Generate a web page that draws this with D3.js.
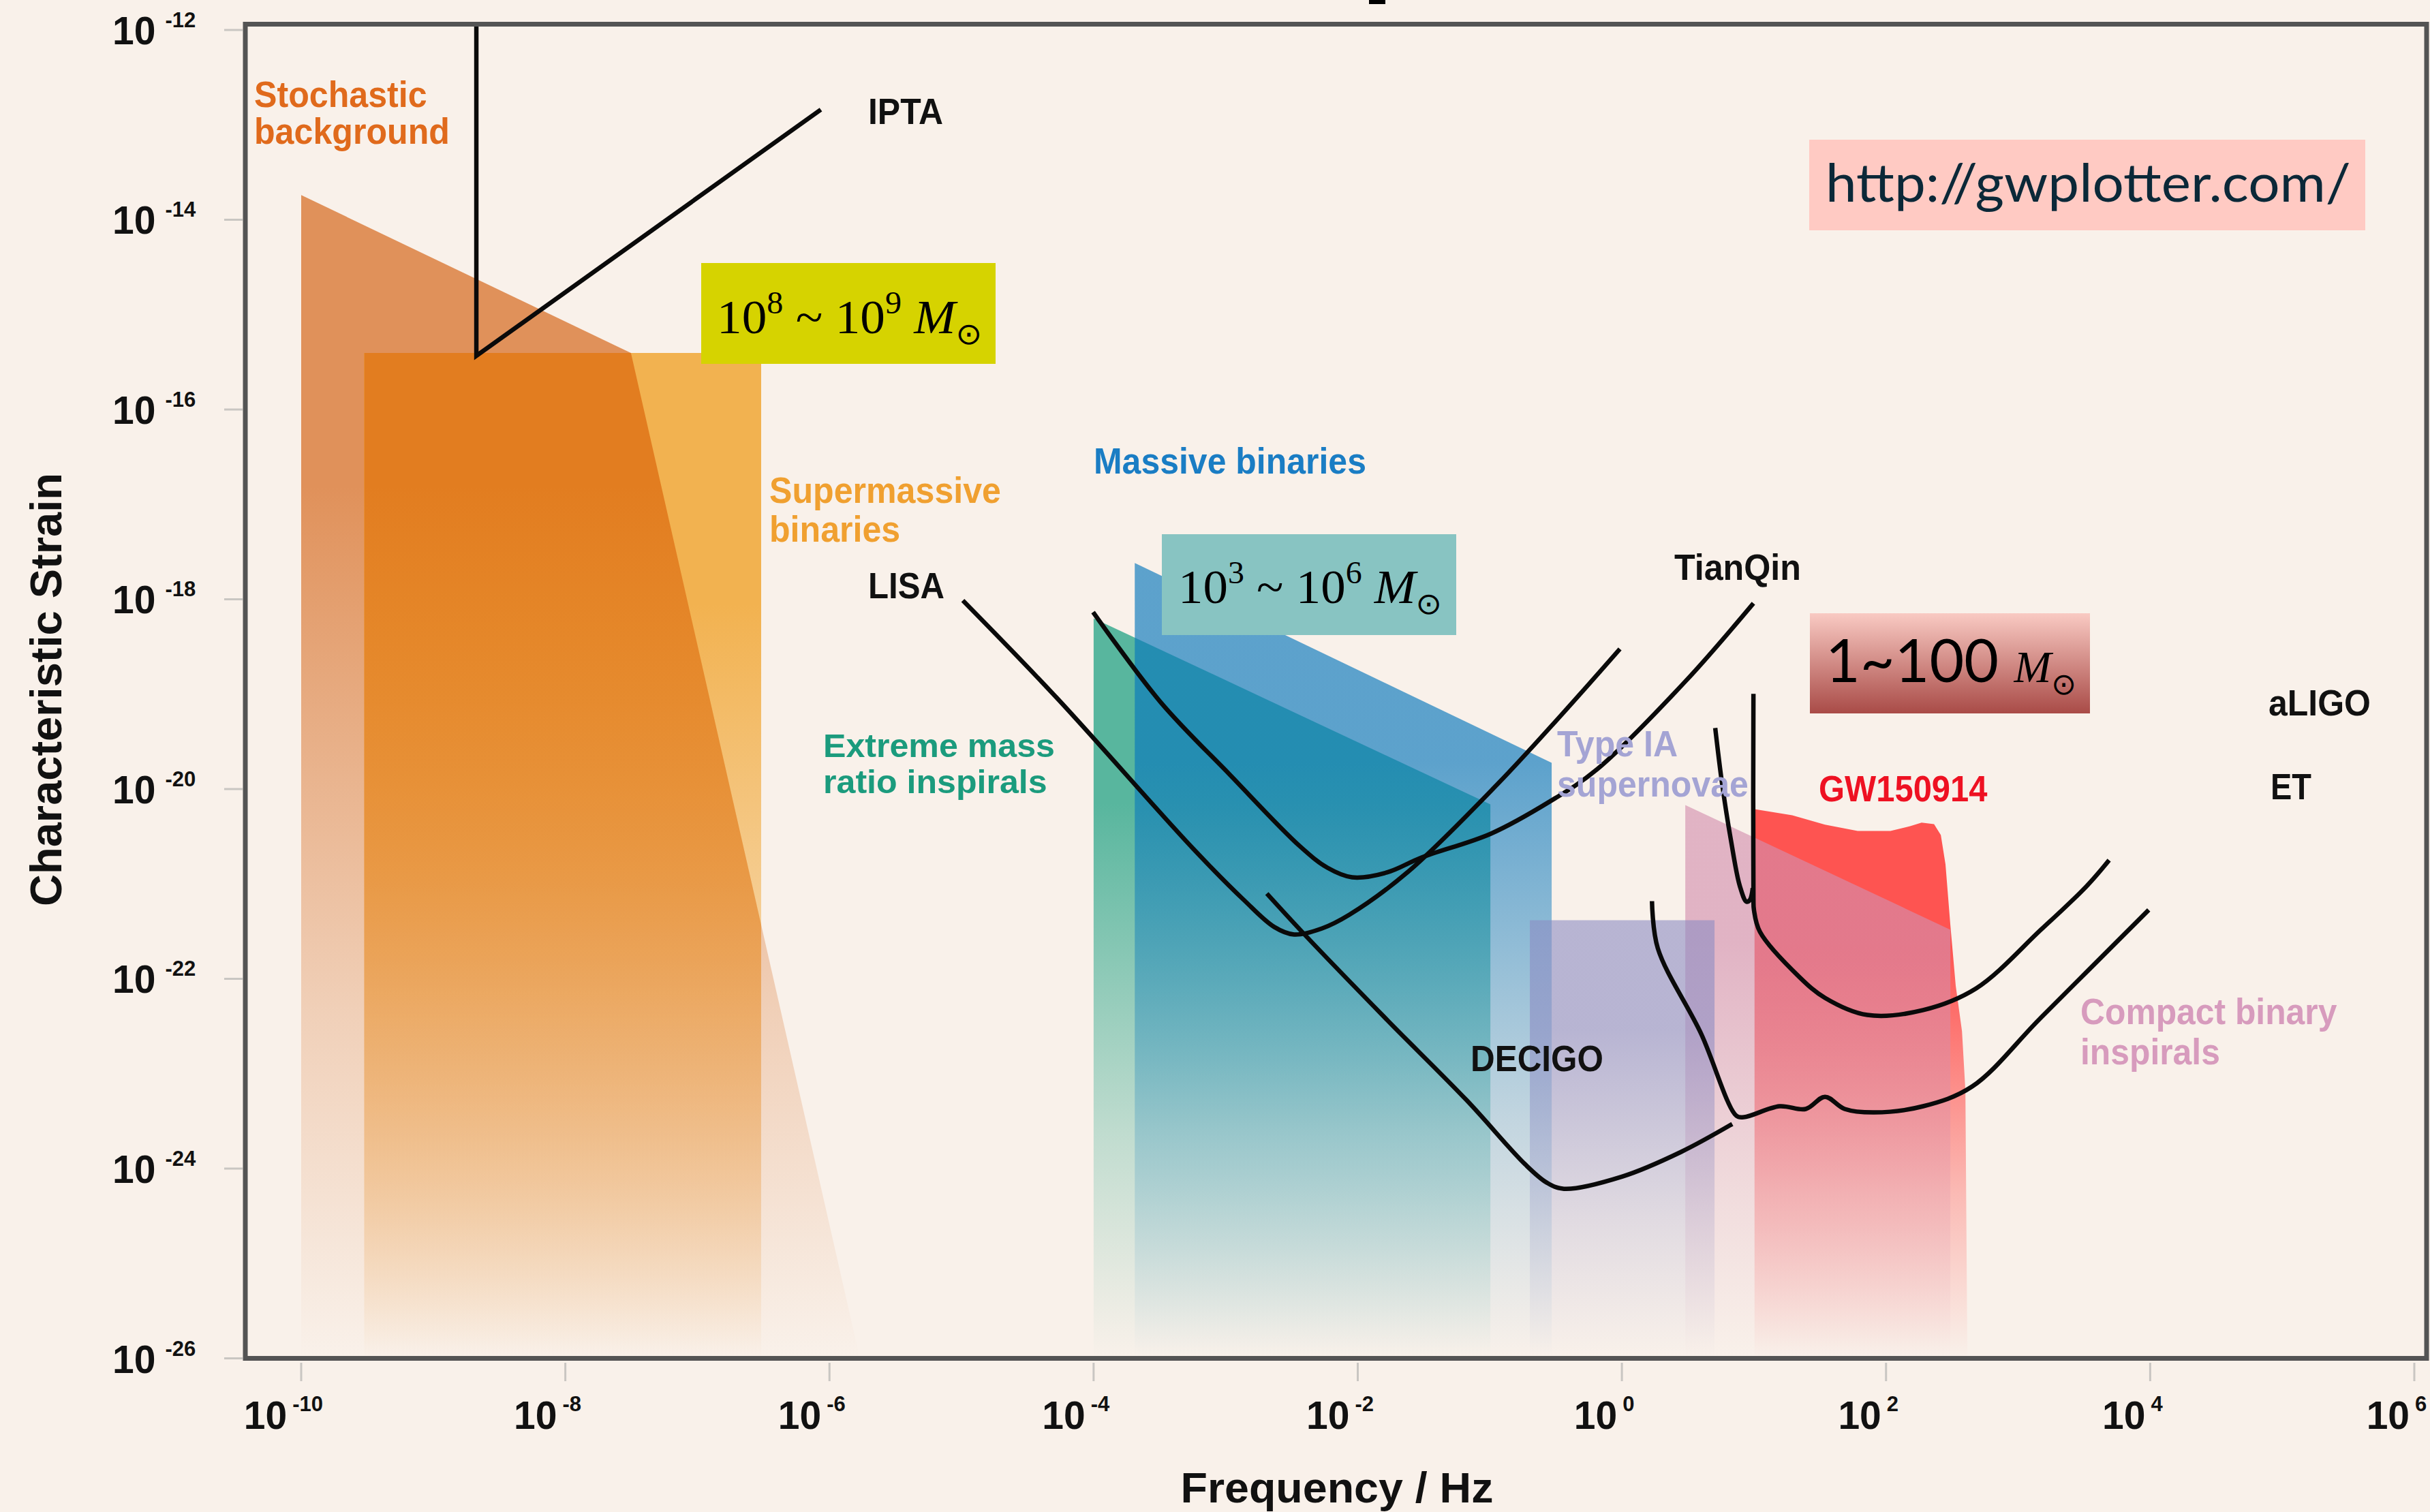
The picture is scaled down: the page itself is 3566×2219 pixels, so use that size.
<!DOCTYPE html>
<html>
<head>
<meta charset="utf-8">
<script src="https://cdn.jsdelivr.net/npm/d3@7"></script>
<style>
  html, body { margin: 0; padding: 0; background: #f9f1ea; }
  svg { display: block; }
</style>
</head>
<body>
<svg id="chart" width="3566" height="2219"></svg>
<script>
// ---- data: frequency (Hz) vs characteristic strain ----
const xTicks = [1e-10, 1e-8, 1e-6, 1e-4, 1e-2, 1e0, 1e2, 1e4, 1e6];
const xTickExp = ["-10", "-8", "-6", "-4", "-2", "0", "2", "4", "6"];
const yTicks = [1e-12, 1e-14, 1e-16, 1e-18, 1e-20, 1e-22, 1e-24, 1e-26];
const yTickExp = ["-12", "-14", "-16", "-18", "-20", "-22", "-24", "-26"];

// source regions (polygons in [f, h])
const stochastic = [[1e-10, 1.82e-14], [3.14e-8, 3.94e-16], [1.70e-6, 1e-26], [1e-10, 1e-26]];
const supermassive = [[3.0e-10, 3.94e-16], [3.04e-7, 3.94e-16], [3.04e-7, 1e-26], [3.0e-10, 1e-26]];
const emri = [[1e-4, 6.3e-19], [0.101, 6.9e-21], [0.101, 1e-26], [1e-4, 1e-26]];
const massive = [[2.05e-4, 2.41e-18], [0.294, 1.89e-20], [0.294, 1e-26], [2.05e-4, 1e-26]];
const typeIa = [[0.201, 4.15e-22], [5.03, 4.15e-22], [5.03, 1e-26], [0.201, 1e-26]];
const compact = [[3.02, 6.79e-21], [307, 3.29e-22], [307, 1e-26], [3.02, 1e-26]];
const gw150914 = [[10.1, 6.15e-21], [19.5, 5.30e-21], [34.5, 4.21e-21], [61.0, 3.62e-21],
  [108, 3.62e-21], [152, 4.06e-21], [186, 4.42e-21], [231, 4.27e-21], [260, 3.28e-21],
  [282, 1.61e-21], [307, 3.69e-22], [337, 8.47e-23], [376, 2.80e-23], [399, 6.64e-24],
  [413, 1e-26], [10.1, 1e-26]];

// detector sensitivity curves
const ipta = [[2.12e-9, 1.15e-12], [2.12e-9, 3.68e-16], [8.6e-7, 1.45e-13]];
const lisa = [[1.023e-5, 9.70e-19], [5.21e-5, 9.27e-20], [5.61e-4, 2.39e-21], [1.368e-3, 6.81e-22],
  [2.33e-3, 3.52e-22], [3.30e-3, 2.93e-22], [5.37e-3, 3.40e-22], [8.63e-3, 4.73e-22],
  [0.0240, 1.34e-21], [0.115, 1.135e-20], [0.344, 5.93e-20], [0.966, 3.00e-19]];
const tianqin = [[9.91e-5, 7.33e-19], [3.21e-4, 8.26e-20], [1.079e-3, 1.41e-20], [3.62e-3, 2.52e-21],
  [5.90e-3, 1.48e-21], [9.06e-3, 1.175e-21], [0.0166, 1.32e-21], [0.0304, 1.90e-21],
  [0.102, 3.39e-21], [0.284, 7.38e-21], [0.644, 1.60e-20], [3.02, 1.36e-19], [9.91, 9.08e-19]];
const decigo = [[2.05e-3, 7.91e-22], [4.04e-3, 2.84e-22], [0.0170, 3.59e-23], [0.0667, 5.26e-24],
  [0.185, 1.11e-24], [0.270, 7.11e-25], [0.364, 6.12e-25], [1.01, 8.26e-25], [2.81, 1.50e-24],
  [6.85, 2.95e-24]];
const et = [[1.69, 6.59e-22], [1.87, 2.10e-22], [3.97, 2.66e-23], [7.36, 3.60e-24], [8.39, 3.48e-24],
  [15.6, 4.54e-24], [24.7, 4.25e-24], [34.5, 5.71e-24], [48.6, 4.25e-24], [81.1, 3.91e-24],
  [191, 4.54e-24], [449, 7.33e-24], [1489, 3.90e-23], [9750, 5.32e-22]];
const aligo = [[9.91, 1.007e-19], [9.91, 7.16e-22], [10.0, 5.32e-22], [11.1, 3.13e-22], [22.0, 1.05e-22],
  [34.5, 6.30e-23], [72.1, 4.16e-23], [191, 4.68e-23], [482, 7.93e-23], [1489, 3.29e-22],
  [3304, 9.48e-22], [4887, 1.78e-21]];
const wall = [[5.09, 4.41e-20], [5.74, 1.135e-20], [6.70, 2.87e-21], [7.82, 9.48e-22],
  [8.79, 6.49e-22], [9.33, 6.81e-22], [9.79, 9.02e-22]];

// ---- layout ----
const W = 3566, H = 2219;
const svg = d3.select("#chart");
const defs = svg.append("defs");

const x = d3.scaleLog().domain([Math.pow(10, -10.423), Math.pow(10, 6.093)]).range([360, 3561]);
const y = d3.scaleLog().domain([1e-26, Math.pow(10, -11.939)]).range([1993.5, 35.5]);

svg.append("rect").attr("width", W).attr("height", H).attr("fill", "#f9f1ea");

// small fragment of a cut-off title at the very top
svg.append("rect").attr("x", 2009).attr("y", 0).attr("width", 24).attr("height", 6).attr("fill", "#000");

const poly = d3.line().x(d => x(d[0])).y(d => y(d[1]));
const curve = d3.line().x(d => x(d[0])).y(d => y(d[1])).curve(d3.curveCatmullRom.alpha(0.5));

// vertical fade towards the bottom of each region
function fade(id, color, alpha) {
  const g = defs.append("linearGradient").attr("id", id)
    .attr("x1", 0).attr("y1", 0).attr("x2", 0).attr("y2", 1);
  [[0, 1], [0.25, 1], [0.7, 0.35], [1, 0]].forEach(([o, k]) => {
    g.append("stop").attr("offset", o).attr("stop-color", color).attr("stop-opacity", alpha * k);
  });
  return `url(#${id})`;
}

const plot = svg.append("g");

// supermassive clip for the overlap with the stochastic background
defs.append("clipPath").attr("id", "smbhClip").append("path").attr("d", poly(supermassive) + "Z");

plot.append("path").attr("d", poly(stochastic) + "Z").attr("fill", fade("gStoch", "#e0915a", 1));
plot.append("path").attr("d", poly(supermassive) + "Z").attr("fill", fade("gSmbh", "#f2b250", 1));
plot.append("path").attr("d", poly(stochastic) + "Z").attr("clip-path", "url(#smbhClip)")
  .attr("fill", fade("gOver", "#e27d20", 1));
plot.append("path").attr("d", poly(emri) + "Z").attr("fill", fade("gEmri", "#58b69e", 1));
plot.append("path").attr("d", poly(massive) + "Z").attr("fill", fade("gMass", "rgb(8,119,188)", 0.65));
plot.append("path").attr("d", poly(gw150914) + "Z").attr("fill", fade("gGw", "#fe5451", 1));
plot.append("path").attr("d", poly(compact) + "Z").attr("fill", fade("gComp", "rgb(211,143,174)", 0.63));
plot.append("path").attr("d", poly(typeIa) + "Z").attr("fill", fade("gIa", "rgb(140,140,195)", 0.6));

// sensitivity curves
plot.append("path").attr("d", poly(ipta)).attr("fill", "none").attr("stroke", "#0a0a0a")
  .attr("stroke-width", 6.5).attr("stroke-linejoin", "miter");
[lisa, tianqin, decigo, et, aligo, wall].forEach(c => {
  plot.append("path").attr("d", curve(c)).attr("fill", "none").attr("stroke", "#0a0a0a")
    .attr("stroke-width", 6.5).attr("stroke-linecap", "butt");
});

// frame
svg.append("rect").attr("x", 360).attr("y", 35.5).attr("width", 3201).attr("height", 1958)
  .attr("fill", "none").attr("stroke", "#545454").attr("stroke-width", 7);

// ticks
const axisFont = "'Liberation Sans', Arial, Helvetica, sans-serif";
svg.selectAll(".ytick").data(yTicks).enter().append("line")
  .attr("x1", 329).attr("x2", 356).attr("y1", d => y(d)).attr("y2", d => y(d))
  .attr("stroke", "#c9c6c2").attr("stroke-width", 3);
svg.selectAll(".xtick").data(xTicks).enter().append("line")
  .attr("y1", 2000).attr("y2", 2027).attr("x1", d => x(d)).attr("x2", d => x(d))
  .attr("stroke", "#c9c6c2").attr("stroke-width", 3);

yTicks.forEach((t, i) => {
  const tx = svg.append("text").attr("x", 165).attr("y", y(t) + 21)
    .attr("font-family", axisFont).attr("font-weight", "bold").attr("font-size", 57).attr("fill", "#111");
  tx.append("tspan").text("10");
  tx.append("tspan").attr("dx", 14).attr("dy", -25).attr("font-size", 31).text(yTickExp[i]);
});
xTicks.forEach((t, i) => {
  const tx = svg.append("text").attr("x", x(t) - 26).attr("y", 2097).attr("text-anchor", "middle")
    .attr("font-family", axisFont).attr("font-weight", "bold").attr("font-size", 57).attr("fill", "#111");
  tx.append("tspan").text("10");
  tx.append("tspan").attr("dx", 8).attr("dy", -26).attr("font-size", 31).text(xTickExp[i]);
});

// text helper: place text at (x0, base) and squeeze it to a given width
function fit(el, x0, base, w, extra) {
  const bw = el.node().getBBox().width;
  const s = bw > 0 ? w / bw : 1;
  el.attr("transform", `translate(${x0},${base}) ${extra || ""} scale(${s},1)`);
  return el;
}

// axis titles
fit(svg.append("text").attr("text-anchor", "middle").attr("font-family", axisFont)
  .attr("font-weight", "bold").attr("font-size", 63).attr("fill", "#111").text("Frequency / Hz"),
  1962, 2205, 459);
fit(svg.append("text").attr("text-anchor", "middle").attr("font-family", axisFont)
  .attr("font-weight", "bold").attr("font-size", 64).attr("fill", "#111").text("Characteristic Strain"),
  90, 1012, 636, "rotate(-90)");

// region / detector labels: lines, left x, first baseline, line gap, widest line width, colour, size
const labels = [
  [["Stochastic", "background"], 373, 157, 54, 287, "#e06a1c", 53],
  [["IPTA"], 1274, 182, 0, 110, "#111", 53],
  [["Supermassive", "binaries"], 1129, 738, 57, 340, "#f0a030", 53],
  [["Massive binaries"], 1605, 695, 0, 400, "#1a7dc4", 53],
  [["LISA"], 1274, 878, 0, 112, "#111", 53],
  [["Extreme mass", "ratio inspirals"], 1208, 1111, 53, 340, "#1b9b7d", 48],
  [["TianQin"], 2457, 851, 0, 186, "#111", 53],
  [["Type IA", "supernovae"], 2285, 1110, 59, 281, "#a4a4d4", 53],
  [["GW150914"], 2669, 1176, 0, 248, "#ee1122", 53],
  [["DECIGO"], 2158, 1572, 0, 195, "#111", 53],
  [["aLIGO"], 3329, 1050, 0, 150, "#111", 53],
  [["ET"], 3332, 1173, 0, 60, "#111", 53],
  [["Compact binary", "inspirals"], 3053, 1503, 59, 377, "#d79bbd", 53]
];
labels.forEach(([lines, lx, ly, gap, lw, c, fs]) => {
  const t = svg.append("text").attr("font-family", axisFont).attr("font-weight", "bold")
    .attr("font-size", fs).attr("fill", c);
  lines.forEach((s, i) => t.append("tspan").attr("x", 0).attr("dy", i === 0 ? 0 : gap).text(s));
  fit(t, lx, ly, lw);
});

// mass-range boxes
const serif = "'Liberation Serif', 'Times New Roman', Times, serif";
function massText(parent, a, b, x0, base, w) {
  const t = parent.append("text").attr("font-family", serif).attr("font-size", 70).attr("fill", "#000");
  t.append("tspan").text("10");
  t.append("tspan").attr("dy", -29).attr("font-size", 46).text(a);
  t.append("tspan").attr("dy", 29).text(" ~ 10");
  t.append("tspan").attr("dy", -29).attr("font-size", 46).text(b);
  t.append("tspan").attr("dy", 29).text(" ");
  t.append("tspan").attr("font-style", "italic").text("M");
  t.append("tspan").attr("dy", 16).attr("font-size", 44).attr("font-family", "'DejaVu Sans', sans-serif").text("\u2299");
  fit(t, x0, base, w);
}
svg.append("rect").attr("x", 1029).attr("y", 386).attr("width", 432).attr("height", 148).attr("fill", "#d6d300");
massText(svg, "8", "9", 1052, 489, 389);
svg.append("rect").attr("x", 1705).attr("y", 784).attr("width", 432).attr("height", 148).attr("fill", "#88c4c2");
massText(svg, "3", "6", 1729, 885, 387);

const rg = defs.append("linearGradient").attr("id", "gBox").attr("x1", 0).attr("y1", 0).attr("x2", 0).attr("y2", 1);
rg.append("stop").attr("offset", 0).attr("stop-color", "#f9cac3");
rg.append("stop").attr("offset", 1).attr("stop-color", "#a94b47");
svg.append("rect").attr("x", 2656).attr("y", 900).attr("width", 411).attr("height", 147).attr("fill", "url(#gBox)");
const st = svg.append("text").attr("font-family", "Lato, 'Open Sans', sans-serif").attr("font-size", 88).attr("fill", "#000");
st.append("tspan").text("1~100 ");
st.append("tspan").attr("font-family", serif).attr("font-style", "italic").attr("font-size", 66).text("M");
st.append("tspan").attr("dy", 18).attr("font-size", 44).attr("font-family", "'DejaVu Sans', sans-serif").text("\u2299");
fit(st, 2679, 1001, 368);

// website box
svg.append("rect").attr("x", 2655).attr("y", 205).attr("width", 816).attr("height", 133).attr("fill", "#ffcac3");
fit(svg.append("text").attr("font-family", "Lato, 'Open Sans', sans-serif").attr("font-size", 78)
  .attr("fill", "#0b2838").text("http://gwplotter.com/"), 2679, 296, 771);
</script>
</body>
</html>
